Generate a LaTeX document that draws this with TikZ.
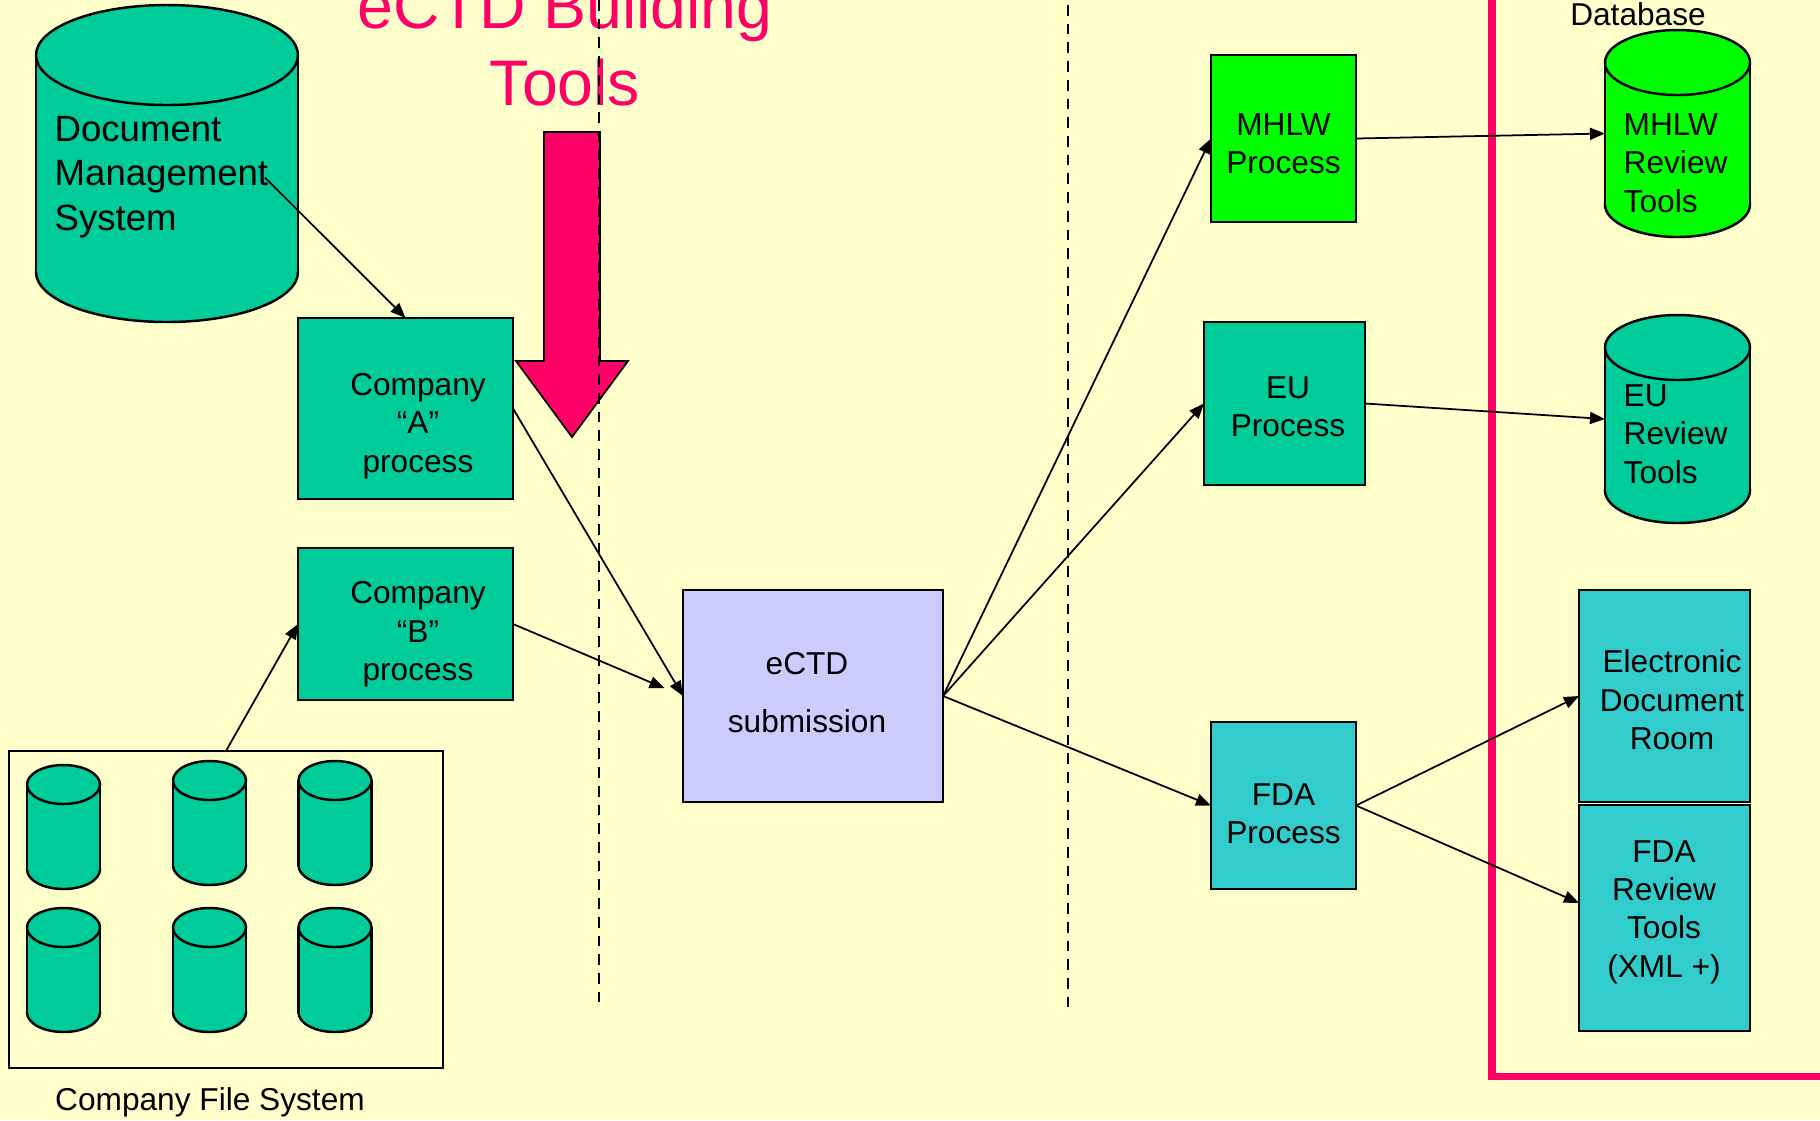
\documentclass[tikz,border=0pt]{standalone}
\usepackage{fontspec}
\setmainfont{Liberation Sans}
\usetikzlibrary{arrows.meta,calc}
\definecolor{cpaper}{HTML}{FFFFCC}
\definecolor{cgreen}{HTML}{00CC99}
\definecolor{cmhlw}{HTML}{00FF00}
\definecolor{ccyan}{HTML}{33CCCC}
\definecolor{clav}{HTML}{CCCCFF}
\definecolor{cpink}{HTML}{FF0066}
\newcommand\drawcan[7]{%
    \node[inner sep=0pt,outer sep=0pt,minimum width={2*#4*0.01cm},minimum height={2*#5*0.01cm}] (#1) at (#2,#3) {};
    \draw[line width=0.7pt,fill=#7] (#2,#3+#5-#6) ellipse[x radius=#4,y radius=#6];
    \fill[#7] (#2-#4,#3-#5+#6) rectangle (#2+#4,#3+#5-#6);
    \draw[line width=0.7pt] (#2-#4,#3-#5+#6) -- (#2-#4,#3+#5-#6) (#2+#4,#3-#5+#6) -- (#2+#4,#3+#5-#6);
    \draw[line width=0.7pt,fill=#7] (#2,#3-#5+#6) ellipse[x radius=#4,y radius=#6];
}

\begin{document}
\begin{tikzpicture}[x=0.01cm,y=-0.01cm,
        box/.style={draw,line width=0.7pt,outer sep=0pt,inner sep=0pt},
        txt/.style={inner sep=0pt,align=center,font=\fontsize{9}{10.9}\selectfont},
        conn/.style={-{Triangle[length=0.15cm,width=0.12cm]},line width=0.5pt},
        divider/.style={dash pattern=on 0.107cm off 0.08cm,line width=0.75pt}]
            \useasboundingbox (0,0) rectangle (1820,1120);
            \clip (0,0) rectangle (1820,1120);
            \fill[cpaper] (0,0) rectangle (1820,1120);
            \drawcan{dms}{167}{163.5}{131}{158.5}{50}{cgreen}
            \node[txt,align=left,anchor=west,font=\fontsize{10.4}{12.6}\selectfont] (dmstxt) at (54,177) {Document\\Management\\System};
            \node[box,fill=cgreen,minimum width=2.15cm,minimum height=1.81cm] (compA) at (405.5,408.5) {};
            \node[txt] (compAtxt) at (418,426) {Company\\“A”\\process};
            \node[box,fill=cgreen,minimum width=2.15cm,minimum height=1.52cm] (compB) at (405.5,624) {};
            \node[txt] (compBtxt) at (418,634.5) {Company\\“B”\\process};
            \node[box,minimum width=4.34cm,minimum height=3.17cm] (fs) at (226,909.5) {};
            \foreach \i/\cx/\cy in {1/63.5/827,2/209.5/823,3/335/823,4/63.5/970,5/209.5/970,6/335/970}{
                \drawcan{fscan\i}{\cx}{\cy}{36.5}{62}{19.5}{cgreen}
            }
            \node[txt] (fstxt) at (210,1102.5) {Company File System};
            \node[box,fill=clav,minimum width=2.6cm,minimum height=2.12cm] (ectd) at (813,696) {};
            \node[txt,font=\fontsize{9}{16.5}\selectfont] (ectdtxt) at (807,692.5) {eCTD\\submission};
            \node[txt,text=cpink,font=\fontsize{18.3}{21.9}\selectfont] (title) at (565,43.5) {eCTD Building\\Tools};
            \draw[fill=cpink,line width=0.5pt] (544,132) -- (600,132) -- (600,361) -- (628,361) -- (572,437) -- (516,361) -- (544,361) -- cycle;
            \node[box,fill=cmhlw,minimum width=1.45cm,minimum height=1.67cm] (mhlw) at (1283.5,138.5) {};
            \node[txt] (mhlwtxt) at (1283.5,143.7) {MHLW\\Process};
            \node[box,fill=cgreen,minimum width=1.61cm,minimum height=1.63cm] (eu) at (1284.5,403.5) {};
            \node[txt] (eutxt) at (1288,407) {EU\\Process};
            \node[box,fill=ccyan,minimum width=1.45cm,minimum height=1.67cm] (fda) at (1283.5,805.5) {};
            \node[txt] (fdatxt) at (1283.5,813.5) {FDA\\Process};
            \draw[cpink,line width=2pt] (1492,-50) -- (1492,1076) -- (1870,1076);
            \node[txt] (dbtxt) at (1638,14.3) {Database};
            \drawcan{mrev}{1677.5}{133.5}{72.5}{103.5}{32.5}{cmhlw}
            \node[txt,align=left,anchor=west] (mrevtxt) at (1623,163) {MHLW\\Review\\Tools};
            \drawcan{eurev}{1677.5}{419}{72.5}{104}{32.5}{cgreen}
            \node[txt,align=left,anchor=west] (eurevtxt) at (1623,434) {EU\\Review\\Tools};
            \node[box,fill=ccyan,minimum width=1.71cm,minimum height=2.12cm] (edr) at (1664.5,696) {};
            \node[txt] (edrtxt) at (1672,700) {Electronic\\Document\\Room};
            \node[box,fill=ccyan,minimum width=1.71cm,minimum height=2.26cm] (fdarev) at (1664.5,918) {};
            \node[txt] (fdarevtxt) at (1664,912) {FDA\\Review\\Tools\\(XML +)};
            \draw[divider] (599,0) -- (599,1007);
            \draw[divider] (1068,5) -- (1068,1007);
            \draw[conn] ($(dms.center)+(98,14)$) -- (compA.north);
            \draw[conn] (fs.north) -- (compB.west);
            \draw[conn] (compA.east) -- (ectd.west);
            \draw[conn,shorten >=0.2cm] (compB.east) -- (ectd.west);
            \draw[conn] (ectd.east) -- (mhlw.west);
            \draw[conn] (ectd.east) -- (eu.west);
            \draw[conn] (ectd.east) -- (fda.west);
            \draw[conn] (mhlw.east) -- (mrev.west);
            \draw[conn] (eu.east) -- (eurev.west);
            \draw[conn] (fda.east) -- (edr.west);
            \draw[conn] (fda.east) -- (fdarev.170);
\end{tikzpicture}
\end{document}
